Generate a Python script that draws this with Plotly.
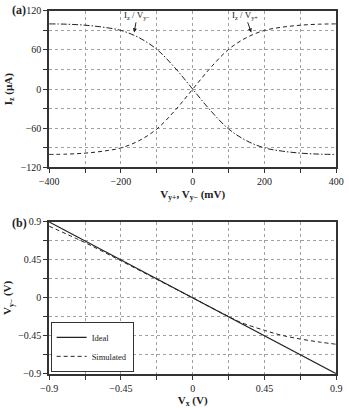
import plotly.graph_objects as go

# Panel (a): Iz versus Vy+ / Vy-  (mV, uA)
v_mv = [-400, -350, -300, -250, -200, -150, -100, -50, 0, 50, 100, 150, 200, 250, 300, 350, 400]
iz_vy_plus = [-100, -99.5, -98, -95, -90, -79, -61, -33, 0, 33, 61, 79, 90, 95, 98, 99.5, 100]
iz_vy_minus = [100, 99.5, 98, 95, 90, 79, 61, 33, 0, -33, -61, -79, -90, -95, -98, -99.5, -100]

# Panel (b): Vy- versus Vx (V)
vx_ideal = [-0.9, 0.9]
vy_ideal = [0.9, -0.9]
vx_sim = [-0.9, -0.675, -0.45, -0.225, 0, 0.1, 0.225, 0.3, 0.45, 0.55, 0.675, 0.8, 0.9]
vy_sim = [0.85, 0.655, 0.44, 0.22, 0, -0.1, -0.22, -0.29, -0.385, -0.44, -0.488, -0.525, -0.55]

FONT = "Liberation Serif"
LINE = "#333333"
GRID = "#a0a0a0"

fig = go.Figure()
fig.add_trace(go.Scatter(x=v_mv, y=iz_vy_plus, mode="lines", line=dict(color="#222", width=1, dash="4px,3px", shape="spline"),
                         xaxis="x", yaxis="y", showlegend=False))
fig.add_trace(go.Scatter(x=v_mv, y=iz_vy_minus, mode="lines", line=dict(color="#222", width=1, dash="6px,2px,1.5px,2px", shape="spline"),
                         xaxis="x", yaxis="y", showlegend=False))
fig.add_trace(go.Scatter(x=vx_ideal, y=vy_ideal, mode="lines", name="Ideal", line=dict(color="#222", width=1.2),
                         xaxis="x2", yaxis="y2"))
fig.add_trace(go.Scatter(x=vx_sim, y=vy_sim, mode="lines", name="Simulated", line=dict(color="#222", width=1, dash="4px,3px", shape="spline"),
                         xaxis="x2", yaxis="y2"))

def ax(rng, dtick, minor, domain, anchor, title, standoff):
    return dict(range=rng, dtick=dtick, tick0=rng[0], domain=domain, anchor=anchor,
                showline=True, linecolor=LINE, linewidth=1.5, mirror=True,
                ticks="outside", ticklen=4, tickcolor=LINE, tickwidth=1,
                showgrid=True, gridcolor=GRID, griddash="dot", gridwidth=1,
                minor=dict(dtick=minor, showgrid=True, gridcolor=GRID, griddash="dot", ticks="outside", ticklen=4, tickcolor=LINE),
                zeroline=False, tickfont=dict(family=FONT, size=10, color="#222"),
                title=dict(text=title, font=dict(family=FONT, size=11, color="#222"), standoff=standoff))

xd = [41/349, 342/349]
fig.update_layout(
    width=349, height=408, margin=dict(l=0, r=0, t=0, b=0),
    paper_bgcolor="white", plot_bgcolor="white",
    xaxis=ax([-400, 400], 200, 100, xd, "y", "<b>V<sub>y+</sub>, V<sub>y−</sub> (mV)</b>", 4),
    yaxis=ax([-120, 120], 60, 30, [1-167/408, 1-6/408], "x", "<b>I<sub>z</sub> (µA)</b>", 6),
    xaxis2=ax([-0.9, 0.9], 0.45, 0.225, xd, "y2", "<b>V<sub>x</sub> (V)</b>", 6),
    yaxis2=ax([-0.9, 0.9], 0.45, 0.225, [1-379/408, 1-223/408], "x2", "<b>V<sub>y−</sub> (V)</b>", 4),
    legend=dict(x=0.122, y=1-377/408, xanchor="left", yanchor="bottom", bgcolor="white",
                bordercolor=LINE, borderwidth=1, font=dict(family=FONT, size=8.5, color="#222"),
                tracegroupgap=0, itemwidth=30),
    annotations=[
        dict(text="<b>(a)</b>", x=0.0, y=1-5/408, xref="paper", yref="paper", xanchor="left", yanchor="middle",
             showarrow=False, font=dict(family=FONT, size=12, color="#222")),
        dict(text="<b>(b)</b>", x=0.0, y=1-224/408, xref="paper", yref="paper", xanchor="left", yanchor="middle",
             showarrow=False, font=dict(family=FONT, size=12, color="#222")),
        dict(text="I<sub>z</sub> / V<sub>y−</sub>", x=-163, y=87, xref="x", yref="y", ax=3, ay=-17,
             showarrow=True, arrowhead=2, arrowsize=0.8, arrowwidth=1, arrowcolor="#222",
             font=dict(family=FONT, size=9, color="#222")),
        dict(text="I<sub>z</sub> / V<sub>y+</sub>", x=163, y=87, xref="x", yref="y", ax=-6, ay=-17,
             showarrow=True, arrowhead=2, arrowsize=0.8, arrowwidth=1, arrowcolor="#222",
             font=dict(family=FONT, size=9, color="#222")),
    ],
)

fig.write_html("out.html")
